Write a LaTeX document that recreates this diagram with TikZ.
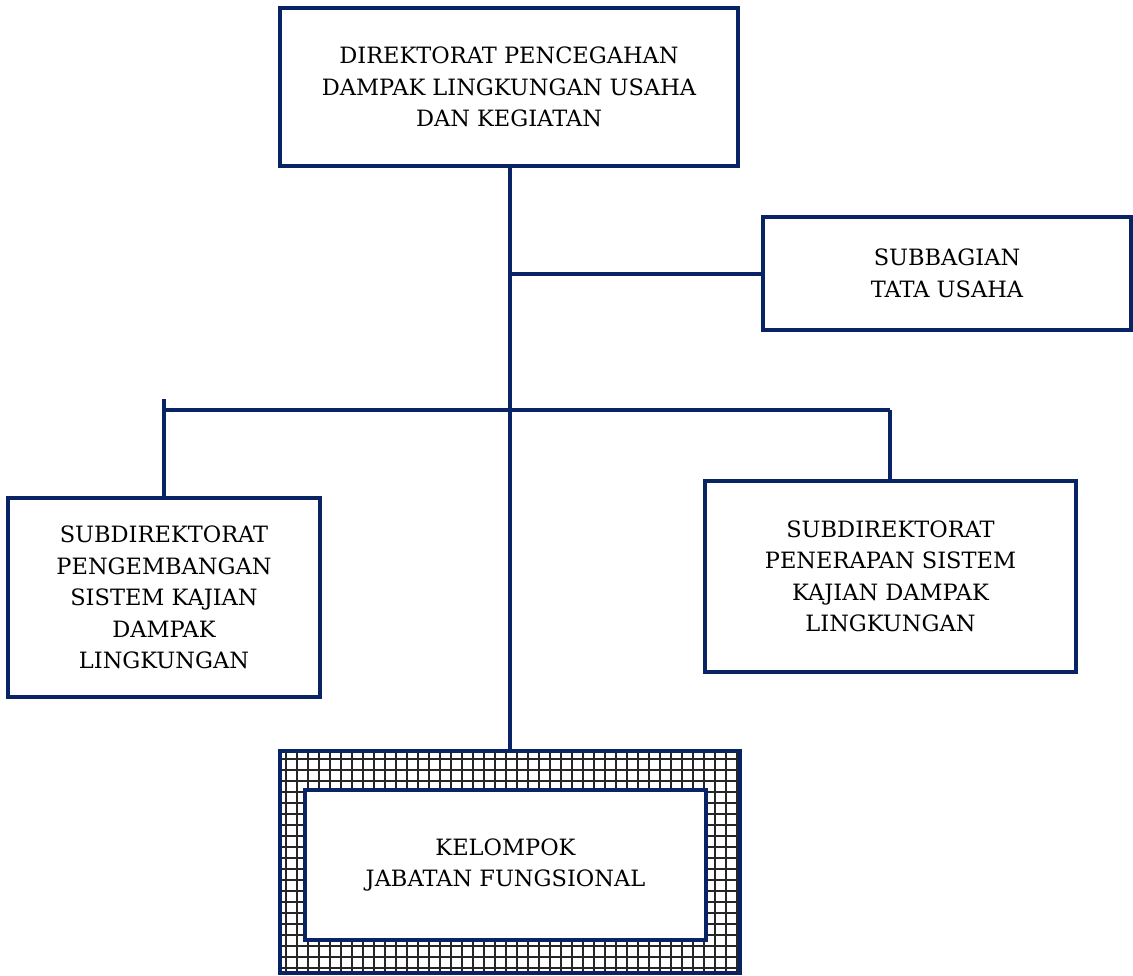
\documentclass[tikz,border=0pt]{standalone}
\usepackage{fontspec}
\setmainfont{DejaVu Serif}
\definecolor{navy}{RGB}{8,36,100}
\tikzset{
  box/.style={draw=navy, line width=4pt, rectangle, align=center, inner sep=0pt,
    font=\fontsize{22.5}{31.5}\selectfont},
  conn/.style={draw=navy, line width=4pt},
}
\begin{document}
\begin{tikzpicture}[x=1pt,y=-1pt]
\useasboundingbox (0,0) rectangle (1133,975);
% grid region of the functional group
\begin{scope}
  \clip (280,750) rectangle (740,973);
  \draw[black!85, line width=2.2pt] (270,740) grid[step=11pt] (750,985);
\end{scope}
\node[box, minimum width=458pt, minimum height=158pt] (top) at (509,87)
  {DIREKTORAT PENCEGAHAN\\DAMPAK LINGKUNGAN USAHA\\DAN KEGIATAN};
\node[box, minimum width=368pt, minimum height=113pt] (sub) at (947,273.5)
  {SUBBAGIAN\\TATA USAHA};
\node[box, minimum width=312pt, minimum height=199pt] (left) at (164,597.5)
  {SUBDIREKTORAT\\PENGEMBANGAN\\SISTEM KAJIAN\\DAMPAK\\LINGKUNGAN};
\node[box, minimum width=371pt, minimum height=191pt] (right) at (890.5,576.5)
  {SUBDIREKTORAT\\PENERAPAN SISTEM\\KAJIAN DAMPAK\\LINGKUNGAN};
\node[draw=navy, line width=4pt, minimum width=460pt, minimum height=222pt, inner sep=0pt] (outer) at (510,861.5) {};
\node[box, fill=white, minimum width=401pt, minimum height=150pt] (fung) at (505.5,865)
  {KELOMPOK\\JABATAN FUNGSIONAL};
% connectors
\coordinate (trunkTop) at (510,166);
\coordinate (trunkBot) at (510,750);
\coordinate (j1) at (510,273.5);
\coordinate (busL) at (164,410);
\coordinate (busR) at (890,410);
\coordinate (stub) at (164,399);
\draw[conn] (trunkTop) -- (trunkBot);
\draw[conn] (j1) -- (sub.west);
\draw[conn] (busL) -- (busR);
\draw[conn] (stub) -- (left.north);
\draw[conn] (busR) -- (busR |- right.north);
\end{tikzpicture}
\end{document}
